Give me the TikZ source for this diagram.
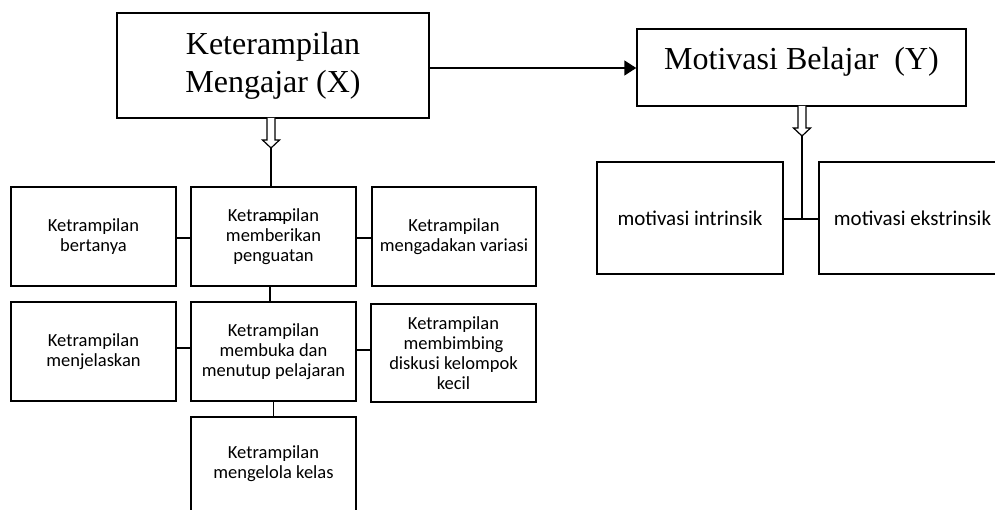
\documentclass[tikz,border=0pt]{standalone}
\usepackage{fontspec}
\setmainfont{Liberation Serif}
\newfontfamily\calibrifont{Carlito}
\usetikzlibrary{arrows.meta}
\tikzset{
  bigbox/.style={draw, line width=1.5pt, inner sep=0pt, align=center,
    font=\fontsize{32}{38}\selectfont},
  smallbox/.style={draw, line width=2pt, inner sep=0pt, align=center,
    minimum width=165pt, minimum height=99pt,
    font=\calibrifont\fontsize{18.5}{20}\selectfont},
  motbox/.style={draw, line width=2pt, inner sep=0pt, align=center,
    minimum height=112pt, font=\calibrifont\fontsize{21}{25}\selectfont},
  conn/.style={line width=1.5pt},
  hollow/.style={draw, line width=1.2pt, fill=white, line join=miter}
}
\begin{document}
\begin{tikzpicture}[x=1pt,y=-1pt]
\useasboundingbox (0,0) rectangle (995,510);
\clip (0,0) rectangle (995,510);

% main boxes
\node[bigbox, minimum width=312pt, minimum height=105pt] (X) at (273,65.5) {Keterampilan\\Mengajar (X)};
\node[bigbox, minimum width=329pt, minimum height=77pt, text height=22pt, text depth=17pt] (Y) at (801.5,67.5) {Motivasi Belajar\ \ (Y)};

% teaching skills boxes
\node[smallbox] (bertanya) at (93.5,236.5) {Ketrampilan\\bertanya};
\node[smallbox] (penguatan) at (273.5,236.5) {Ketrampilan\\memberikan\\penguatan};
\node[smallbox, minimum width=164pt] (variasi) at (454,236.5) {Ketrampilan\\mengadakan variasi};
\node[smallbox] (menjelaskan) at (93.5,351.5) {Ketrampilan\\menjelaskan};
\node[smallbox] (membuka) at (273.5,351.5) {Ketrampilan\\membuka dan\\menutup pelajaran};
\node[smallbox, minimum height=98pt] (diskusi) at (453.5,353) {Ketrampilan\\membimbing\\diskusi kelompok\\kecil};
\node[smallbox, minimum height=94pt] (mengelola) at (273.5,464) {Ketrampilan\\mengelola kelas};

% motivation boxes
\node[motbox, minimum width=186pt] (intrinsik) at (690,218) {motivasi intrinsik};
\node[motbox, minimum width=187pt] (ekstrinsik) at (912.5,218) {motivasi ekstrinsik};

% X -> Y arrow
\draw[conn, line width=1.7pt, -{Triangle[length=12pt,width=15pt]}] ([yshift=-2.5pt]X.east) -- ([yshift=-0.5pt]Y.west);

% hollow arrow under X
\coordinate (hx) at (271,118);
\coordinate (hxtip) at (271,148);
\path[hollow] (hx) ++(-4,0) -- ++(0,22) -- ++(-4.5,0) -- (hxtip) -- ++(8.5,-8) -- ++(-4.5,0) -- ++(0,-22);
\draw[conn] (hxtip) -- (hxtip |- penguatan.north);

% connectors among skills
\draw[conn] ([yshift=-1.5pt]bertanya.east) -- ([yshift=-1.5pt]penguatan.west);
\draw[conn] ([yshift=-1.5pt]penguatan.east) -- ([yshift=-1.5pt]variasi.west);
\draw[conn] ([xshift=-3.5pt]penguatan.south) -- ([xshift=-3.5pt]membuka.north);
\draw[conn] ([yshift=3.5pt]menjelaskan.east) -- ([yshift=3.5pt]membuka.west);
\draw[conn] ([yshift=1.5pt]membuka.east) -- ([yshift=3pt]diskusi.west);
\draw[conn] (membuka.south) -- (mengelola.north);

% stray line in penguatan box
\coordinate (s1) at (261,219.5);
\coordinate (s2) at (287,219.5);
\draw[line width=1pt] (s1) -- (s2);

% hollow arrow under Y
\coordinate (hy) at (802,106);
\coordinate (hytip) at (802,136);
\path[hollow] (hy) ++(-4,0) -- ++(0,22) -- ++(-4.5,0) -- (hytip) -- ++(8.5,-8) -- ++(-4.5,0) -- ++(0,-22);
\coordinate (hyjoin) at (802,219);
\draw[conn] (hytip) -- (hyjoin);
\draw[conn] ([yshift=-1pt]intrinsik.east) -- ([yshift=-1pt]ekstrinsik.west);
\end{tikzpicture}
\end{document}
